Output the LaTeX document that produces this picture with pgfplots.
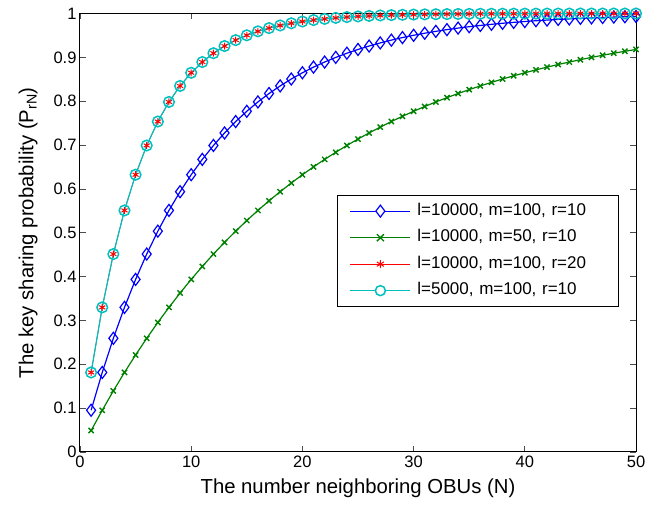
\documentclass[border=0pt]{standalone}
\usepackage{fontspec}
\setmainfont{Liberation Sans}
\usepackage{pgfplots}
\pgfplotsset{compat=1.18}
\definecolor{mblue}{rgb}{0,0,1}
\definecolor{mgreen}{rgb}{0,0.5,0}
\definecolor{mred}{rgb}{1,0,0}
\definecolor{mcyan}{rgb}{0,0.75,0.75}
\begin{document}
\begin{tikzpicture}
\useasboundingbox (-80pt,-53pt) rectangle (576pt,452pt);
\begin{axis}[
  at={(0pt,0pt)}, anchor=south west,
  scale only axis,
  width=556pt, height=438.5pt,
  xmin=0, xmax=50, ymin=0, ymax=1,
  xtick={0,10,20,30,40,50},
  ytick={0,0.1,0.2,0.3,0.4,0.5,0.6,0.7,0.8,0.9,1},
  yticklabels={0,0.1,0.2,0.3,0.4,0.5,0.6,0.7,0.8,0.9,1},
  tick align=inside,
  major tick length=6pt,
  tick style={black!70, line width=0.7pt},
  axis line style={line width=1pt},
  /pgf/number format/assume math mode=true,
  tick label style={font=\fontsize{16.5}{19}\selectfont},
  label style={font=\fontsize{20.3}{24}\selectfont},
  xlabel={The number neighboring OBUs (N)},
  ylabel={The key sharing probability (P\textsubscript{rN})},
  xlabel style={yshift=-5pt},
  ylabel style={yshift=9pt},
  legend style={at={(axis cs:23.11,0.5861)}, anchor=north west,
    font=\fontsize{17}{20}\selectfont, draw=black, line width=0.8pt,
    row sep=0pt, inner xsep=0pt, inner ysep=2.5pt,
    nodes={minimum height=26.5pt, text height=12pt, text depth=3.5pt, inner ysep=0pt, inner xsep=0pt, text width=201pt, align=left}},
  legend cell align=left,
]
\addlegendimage{legend image code/.code={\path[draw=none,fill=none] (-13pt,0pt) rectangle (67pt,0.1pt); \draw[mblue, line width=1.2pt] (0pt,0pt) -- (60pt,0pt); \draw[mblue, line width=1.2pt, fill=white] (30pt,-6pt) -- (34.5pt,0pt) -- (30pt,6pt) -- (25.5pt,0pt) -- cycle;}}
\addlegendentry{l=10000, m=100, r=10}
\addlegendimage{legend image code/.code={\path[draw=none,fill=none] (-13pt,0pt) rectangle (67pt,0.1pt); \draw[mgreen, line width=1.2pt] (0pt,0pt) -- (60pt,0pt); \draw[mgreen, line width=1.4pt] (26.5pt,-3.5pt) -- (33.5pt,3.5pt) (26.5pt,3.5pt) -- (33.5pt,-3.5pt);}}
\addlegendentry{l=10000, m=50, r=10}
\addlegendimage{legend image code/.code={\path[draw=none,fill=none] (-13pt,0pt) rectangle (67pt,0.1pt); \draw[mred, line width=0.7pt] (0pt,0pt) -- (60pt,0pt); \draw[mred, line width=1pt] (30pt,-4pt) -- (30pt,4pt) (26.5pt,-2.2pt) -- (33.5pt,2.2pt) (26.5pt,2.2pt) -- (33.5pt,-2.2pt);}}
\addlegendentry{l=10000, m=100, r=20}
\addlegendimage{legend image code/.code={\path[draw=none,fill=none] (-13pt,0pt) rectangle (67pt,0.1pt); \draw[mcyan, line width=1.2pt] (0pt,0pt) -- (60pt,0pt); \draw[mcyan, line width=1.5pt, fill=white] (30pt,0pt) circle (5pt);}}
\addlegendentry{l=5000, m=100, r=10}
\addplot[forget plot, mblue, line width=1.2pt, mark=diamond, mark size=6pt, mark options={solid, line width=1.2pt}] coordinates {
(1,0.0952)(2,0.1814)(3,0.2593)(4,0.3298)(5,0.3936)(6,0.4514)(7,0.5036)(8,0.5509)(9,0.5936)(10,0.6323)
(11,0.6673)(12,0.6990)(13,0.7276)(14,0.7536)(15,0.7770)(16,0.7983)(17,0.8175)(18,0.8348)(19,0.8506)(20,0.8648)
(21,0.8777)(22,0.8893)(23,0.8999)(24,0.9094)(25,0.9180)(26,0.9258)(27,0.9329)(28,0.9393)(29,0.9451)(30,0.9503)
(31,0.9550)(32,0.9593)(33,0.9632)(34,0.9667)(35,0.9699)(36,0.9727)(37,0.9753)(38,0.9777)(39,0.9798)(40,0.9817)
(41,0.9835)(42,0.9850)(43,0.9865)(44,0.9877)(45,0.9889)(46,0.9900)(47,0.9909)(48,0.9918)(49,0.9926)(50,0.9933)};
\addplot[forget plot, mgreen, line width=1.2pt, mark=x, mark size=3.7pt, mark options={solid, line width=1.4pt}] coordinates {
(1,0.0488)(2,0.0952)(3,0.1394)(4,0.1814)(5,0.2213)(6,0.2593)(7,0.2954)(8,0.3298)(9,0.3625)(10,0.3936)
(11,0.4232)(12,0.4514)(13,0.4781)(14,0.5036)(15,0.5278)(16,0.5509)(17,0.5728)(18,0.5936)(19,0.6134)(20,0.6323)
(21,0.6502)(22,0.6673)(23,0.6835)(24,0.6990)(25,0.7137)(26,0.7276)(27,0.7409)(28,0.7536)(29,0.7656)(30,0.7770)
(31,0.7879)(32,0.7983)(33,0.8081)(34,0.8175)(35,0.8264)(36,0.8348)(37,0.8429)(38,0.8506)(39,0.8579)(40,0.8648)
(41,0.8714)(42,0.8777)(43,0.8836)(44,0.8893)(45,0.8947)(46,0.8999)(47,0.9047)(48,0.9094)(49,0.9138)(50,0.9180)};
\addplot[forget plot, mred, line width=0.7pt, mark=asterisk, mark size=3.5pt, mark options={solid, line width=1pt}] coordinates {
(1,0.1814)(2,0.3298)(3,0.4514)(4,0.5509)(5,0.6323)(6,0.6990)(7,0.7536)(8,0.7983)(9,0.8348)(10,0.8648)
(11,0.8893)(12,0.9094)(13,0.9258)(14,0.9393)(15,0.9503)(16,0.9593)(17,0.9667)(18,0.9727)(19,0.9777)(20,0.9817)
(21,0.9850)(22,0.9877)(23,0.9900)(24,0.9918)(25,0.9933)(26,0.9945)(27,0.9955)(28,0.9963)(29,0.9970)(30,0.9975)
(31,0.9980)(32,0.9983)(33,0.9986)(34,0.9989)(35,0.9991)(36,0.9993)(37,0.9994)(38,0.9995)(39,0.9996)(40,0.9997)
(41,0.9997)(42,0.9998)(43,0.9998)(44,0.9998)(45,0.9999)(46,0.9999)(47,0.9999)(48,0.9999)(49,0.9999)(50,1.0000)};
\addplot[forget plot, mcyan, line width=1.2pt, mark=o, mark size=5.3pt, mark options={solid, line width=1.5pt}] coordinates {
(1,0.1814)(2,0.3298)(3,0.4514)(4,0.5509)(5,0.6323)(6,0.6990)(7,0.7536)(8,0.7983)(9,0.8348)(10,0.8648)
(11,0.8893)(12,0.9094)(13,0.9258)(14,0.9393)(15,0.9503)(16,0.9593)(17,0.9667)(18,0.9727)(19,0.9777)(20,0.9817)
(21,0.9850)(22,0.9877)(23,0.9900)(24,0.9918)(25,0.9933)(26,0.9945)(27,0.9955)(28,0.9963)(29,0.9970)(30,0.9975)
(31,0.9980)(32,0.9983)(33,0.9986)(34,0.9989)(35,0.9991)(36,0.9993)(37,0.9994)(38,0.9995)(39,0.9996)(40,0.9997)
(41,0.9997)(42,0.9998)(43,0.9998)(44,0.9998)(45,0.9999)(46,0.9999)(47,0.9999)(48,0.9999)(49,0.9999)(50,1.0000)};
\end{axis}
\end{tikzpicture}
\end{document}
